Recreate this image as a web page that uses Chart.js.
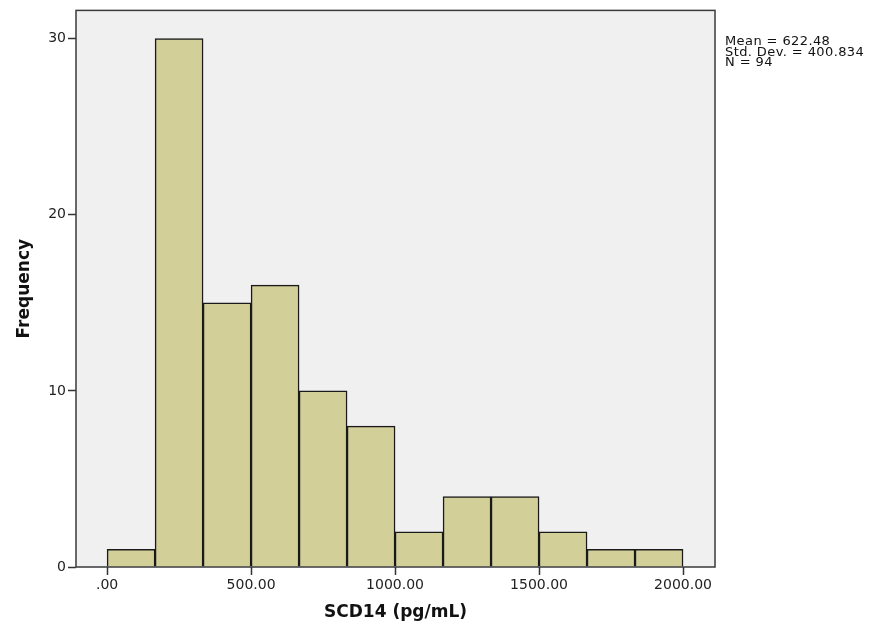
<!DOCTYPE html>
<html lang="en">

<head>
    <meta charset="UTF-8">
    <title>SCD14 histogram</title>
    <script src="https://cdn.jsdelivr.net/npm/chart.js@4/dist/chart.umd.min.js"></script>
    <style>
        body { margin: 0; background: #fff; }
        #wrap { position: relative; width: 875px; height: 627px; }
        #stats {
            position: absolute; left: 725px; top: 36px;
            font: 13px "DejaVu Sans", sans-serif; letter-spacing: 0.4px; line-height: 10.5px; color: #111;
        }
    </style>
</head>

<body>
    <div id="wrap">
        <canvas id="myChart" width="875" height="627"></canvas>
        <div id="stats">Mean = 622.48<br>Std. Dev. = 400.834<br>N = 94</div>
    </div>

    <script>
        // Histogram bins (pg/mL), 12 bins of equal width from 0 to 2000
        var binStart = 0;
        var binWidth = 2000 / 12;
        var frequencies = [1, 30, 15, 16, 10, 8, 2, 4, 4, 2, 1, 1];
        var xTicks = [0, 500, 1000, 1500, 2000];
        var yTicks = [0, 10, 20, 30];

        var points = frequencies.map(function (f, i) {
            return { x: binStart + binWidth * (i + 0.5), y: f };
        });

        // Plot background and frame, like SPSS output
        var framePlugin = {
            id: "frame",
            beforeDraw: function (chart) {
                var a = chart.chartArea, ctx = chart.ctx;
                ctx.save();
                ctx.fillStyle = "#f0f0f0";
                ctx.fillRect(a.left, a.top, a.right - a.left, a.bottom - a.top);
                ctx.restore();
            },
            afterDraw: function (chart) {
                var a = chart.chartArea, ctx = chart.ctx;
                ctx.save();
                ctx.strokeStyle = "#3a3a3a";
                ctx.lineWidth = 1.5;
                ctx.strokeRect(a.left, a.top, a.right - a.left, a.bottom - a.top);
                ctx.restore();
            }
        };

        var tickFont = { family: "'DejaVu Sans', sans-serif", size: 14 };
        var titleFont = { family: "'DejaVu Sans', sans-serif", size: 17, weight: "bold" };

        new Chart(document.getElementById("myChart"), {
            type: "bar",
            data: {
                datasets: [{
                    data: points,
                    backgroundColor: "#d3cf99",
                    borderColor: "#1a1a1a",
                    borderWidth: 1.5,
                    barPercentage: 1,
                    categoryPercentage: 1,
                    grouped: false
                }]
            },
            options: {
                responsive: false,
                animation: false,
                layout: { padding: { top: 10, right: 160, left: 0, bottom: 0 } },
                plugins: { legend: { display: false }, tooltip: { enabled: false } },
                scales: {
                    x: {
                        type: "linear",
                        offset: false,
                        min: -108,
                        max: 2111,
                        afterBuildTicks: function (s) { s.ticks = xTicks.map(function (v) { return { value: v }; }); },
                        afterFit: function (s) { s.height = 60; },
                        ticks: {
                            font: tickFont, color: "#222", padding: 2,
                            callback: function (v) { return v === 0 ? ".00" : v.toFixed(2); }
                        },
                        grid: { offset: false, drawOnChartArea: false, tickLength: 8, tickColor: "#333", tickWidth: 1.5 },
                        border: { display: false },
                        title: { display: true, text: "SCD14 (pg/mL)", font: titleFont, color: "#111", padding: { top: 4 } }
                    },
                    y: {
                        min: 0,
                        max: 31.6,
                        afterBuildTicks: function (s) { s.ticks = yTicks.map(function (v) { return { value: v }; }); },
                        afterFit: function (s) { s.width = 76; },
                        ticks: { font: tickFont, color: "#222", padding: 2 },
                        grid: { drawOnChartArea: false, tickLength: 8, tickColor: "#333", tickWidth: 1.5 },
                        border: { display: false },
                        title: { display: true, text: "Frequency", font: titleFont, color: "#111", padding: { top: 14, bottom: 4 } }
                    }
                }
            },
            plugins: [framePlugin]
        });
    </script>
</body>

</html>
